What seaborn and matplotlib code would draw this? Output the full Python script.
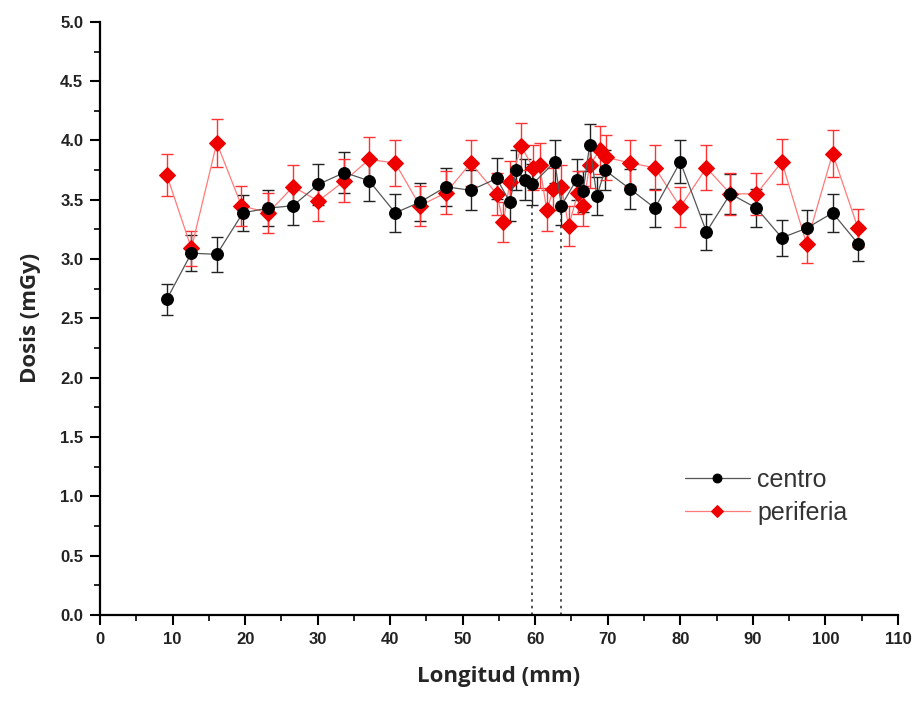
import numpy as np
import pandas as pd
import matplotlib
matplotlib.use("Agg")
import matplotlib.pyplot as plt
import seaborn as sns
from matplotlib.ticker import MultipleLocator

# datos
longitud_centro = [9.2, 12.6, 16.1, 19.7, 23.2, 26.6, 30.1, 33.7, 37.1, 40.7, 44.1, 47.7,
                   51.1, 54.7, 56.5, 57.4, 58.6, 59.6, 62.7, 63.6, 65.7, 66.6, 67.5, 68.5,
                   69.6, 73.1, 76.5, 80.0, 83.6, 86.9, 90.5, 94.0, 97.4, 101.0, 104.5]
dosis_centro = [2.66, 3.05, 3.04, 3.39, 3.43, 3.45, 3.63, 3.73, 3.66, 3.39, 3.48, 3.61,
                3.58, 3.68, 3.48, 3.75, 3.67, 3.63, 3.82, 3.45, 3.67, 3.57, 3.96, 3.53,
                3.75, 3.59, 3.43, 3.82, 3.23, 3.55, 3.43, 3.18, 3.26, 3.39, 3.13]
err_centro = [0.13, 0.15, 0.15, 0.15, 0.15, 0.16, 0.17, 0.17, 0.17, 0.16, 0.16, 0.16,
              0.17, 0.17, 0.16, 0.17, 0.17, 0.17, 0.18, 0.16, 0.17, 0.17, 0.18, 0.16,
              0.17, 0.17, 0.16, 0.18, 0.15, 0.17, 0.16, 0.15, 0.15, 0.16, 0.15]

longitud_periferia = [9.2, 12.6, 16.1, 19.5, 23.2, 26.6, 30.1, 33.7, 37.1, 40.7, 44.1, 47.7,
                      51.1, 54.7, 55.6, 56.5, 58.1, 59.7, 60.6, 61.6, 62.5, 63.6, 64.6, 65.9,
                      66.6, 67.5, 68.9, 69.7, 73.1, 76.5, 80.0, 83.6, 86.9, 90.5, 94.0,
                      97.4, 101.0, 104.5]
dosis_periferia = [3.71, 3.09, 3.98, 3.45, 3.39, 3.61, 3.49, 3.66, 3.84, 3.81, 3.45, 3.56,
                   3.81, 3.55, 3.31, 3.65, 3.95, 3.77, 3.79, 3.41, 3.59, 3.61, 3.28, 3.56,
                   3.45, 3.79, 3.92, 3.86, 3.81, 3.77, 3.44, 3.77, 3.55, 3.55, 3.82,
                   3.13, 3.89, 3.26]
err_periferia = [0.18, 0.15, 0.20, 0.17, 0.17, 0.18, 0.17, 0.18, 0.19, 0.19, 0.17, 0.18,
                 0.19, 0.18, 0.17, 0.18, 0.20, 0.19, 0.19, 0.17, 0.18, 0.18, 0.17, 0.18,
                 0.17, 0.19, 0.20, 0.19, 0.19, 0.19, 0.17, 0.19, 0.18, 0.18, 0.19,
                 0.16, 0.20, 0.16]

lineas_verticales = [59.5, 63.5]
altura_verticales = 3.5

df_c = pd.DataFrame({"x": longitud_centro, "y": dosis_centro, "serie": "centro"})
df_p = pd.DataFrame({"x": longitud_periferia, "y": dosis_periferia, "serie": "periferia"})

sns.set_theme(style="white")
plt.rcParams["font.family"] = ["Liberation Sans", "DejaVu Sans"]

fig = plt.figure(figsize=(9.2, 7.06), dpi=100)
ax = fig.add_axes([0.1087, 0.129, 0.8673, 0.840])

# barras de error
ax.errorbar(longitud_centro, dosis_centro, yerr=err_centro, fmt="none",
            ecolor="#222222", elinewidth=1.0, capsize=4.5, capthick=1.0, zorder=2)
ax.errorbar(longitud_periferia, dosis_periferia, yerr=err_periferia, fmt="none",
            ecolor="#ff3333", elinewidth=1.0, capsize=4.5, capthick=1.0, zorder=2)

# lineas y marcadores
sns.lineplot(data=df_c, x="x", y="y", ax=ax, color="#555555", lw=0.9, sort=False,
             marker="o", markersize=8.5, markerfacecolor="black", markeredgecolor="black",
             label="centro", zorder=4)
sns.lineplot(data=df_p, x="x", y="y", ax=ax, color="#ff7a7a", lw=0.9, sort=False,
             marker="D", markersize=8, markerfacecolor="#ee0000", markeredgecolor="#ee0000",
             label="periferia", zorder=3)

for xv in lineas_verticales:
    ax.plot([xv, xv], [0, altura_verticales], ls=(0, (1.5, 2.5)), color="#333333", lw=1.2, zorder=1)

ax.set_xlim(0, 110)
ax.set_ylim(0, 5.0)
ax.xaxis.set_major_locator(MultipleLocator(10))
ax.xaxis.set_minor_locator(MultipleLocator(5))
ax.yaxis.set_major_locator(MultipleLocator(0.5))
ax.yaxis.set_minor_locator(MultipleLocator(0.25))
ax.yaxis.set_major_formatter(matplotlib.ticker.FormatStrFormatter("%.1f"))

for s in ["top", "right"]:
    ax.spines[s].set_visible(False)
for s in ["left", "bottom"]:
    ax.spines[s].set_color("black")
    ax.spines[s].set_linewidth(1.6)

ax.tick_params(which="major", direction="out", length=7, width=1.5, colors="black",
               labelsize=12, bottom=True, left=True, pad=5)
ax.tick_params(which="minor", direction="out", length=4, width=1.2, colors="black",
               bottom=True, left=True)
for lab in ax.get_xticklabels() + ax.get_yticklabels():
    lab.set_fontweight("bold")
    lab.set_color("#222222")

ax.set_xlabel("Longitud (mm)", fontsize=16, fontweight="bold", family="Open Sans", labelpad=14)
ax.set_ylabel("Dosis (mGy)", fontsize=16, fontweight="bold", family="Open Sans", labelpad=14)

leg = ax.legend(loc="center right", bbox_to_anchor=(0.965, 0.2), frameon=False,
                fontsize=18, handlelength=2.6, handletextpad=0.3, labelspacing=0.35,
                markerscale=0.75)
for t in leg.get_texts():
    t.set_color("#333333")

fig.savefig("out.png", dpi=100, facecolor="white")
